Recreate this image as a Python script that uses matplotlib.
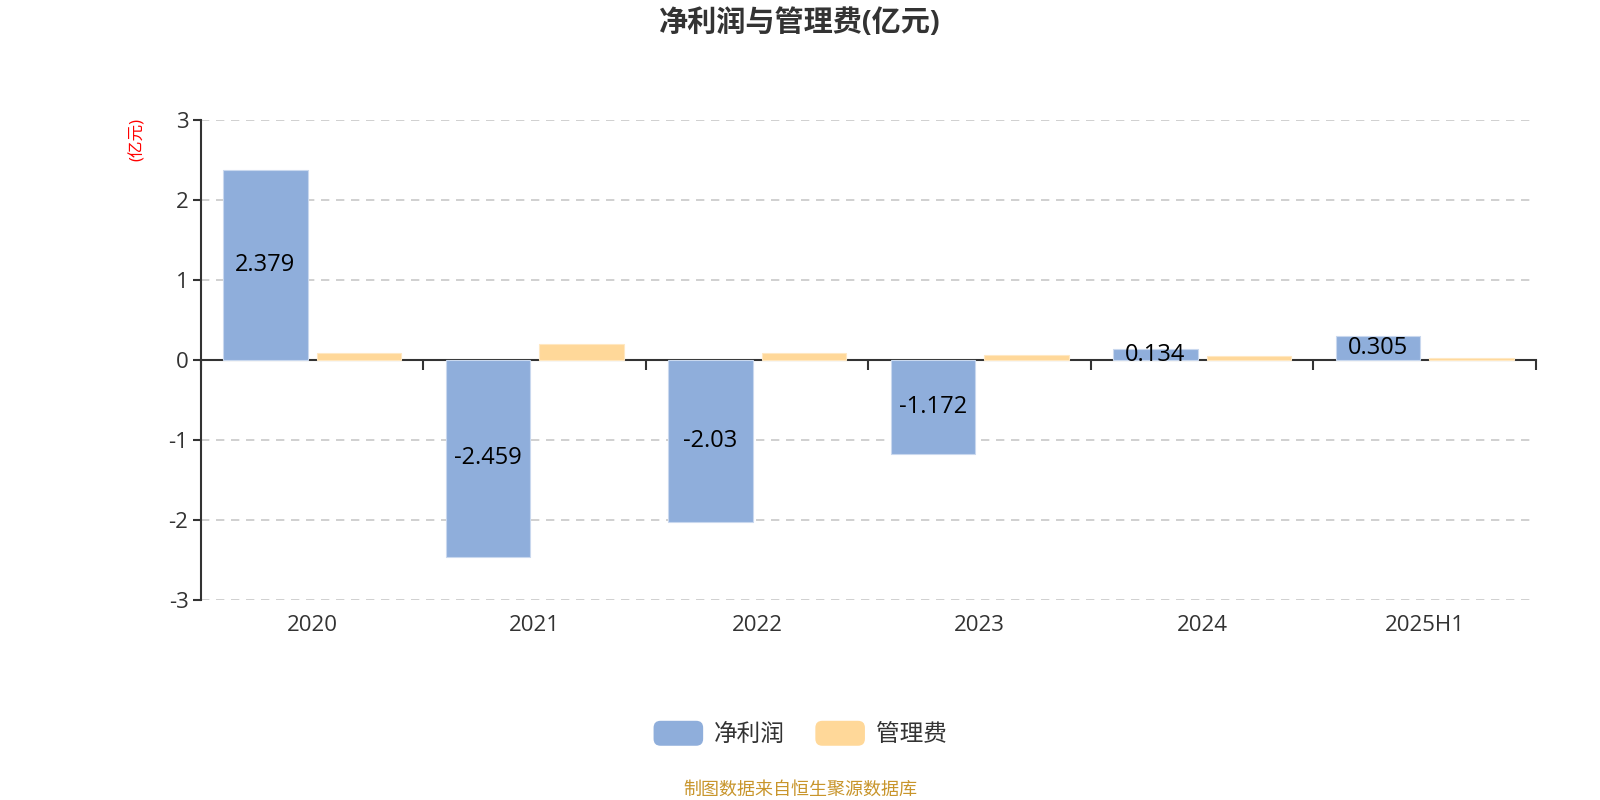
import numpy as np
import matplotlib
matplotlib.use('Agg')
import matplotlib.pyplot as plt
from matplotlib.patches import Patch, FancyBboxPatch
from matplotlib.legend_handler import HandlerPatch

plt.rcParams['font.family'] = ['Open Sans', 'Noto Sans CJK SC', 'DejaVu Sans']
plt.rcParams['axes.unicode_minus'] = False

# Data
years = ['2020', '2021', '2022', '2023', '2024', '2025H1']
net_profit = [2.379, -2.459, -2.03, -1.172, 0.134, 0.305]
admin_fee = [0.09, 0.20, 0.09, 0.06, 0.05, 0.03]
profit_labels = ['2.379', '-2.459', '-2.03', '-1.172', '0.134', '0.305']
series_names = ['净利润', '管理费']
yticks = [-3, -2, -1, 0, 1, 2, 3]

blue = '#8FAEDB'
orange = '#FFD899'
txt = '#333333'


# rounded legend keys
class RoundHandler(HandlerPatch):
    def create_artists(self, legend, orig_handle, xdescent, ydescent,
                       width, height, fontsize, trans):
        p = FancyBboxPatch((-xdescent, -ydescent), width, height,
                           boxstyle='round,pad=0,rounding_size=5',
                           facecolor=orig_handle.get_facecolor(),
                           edgecolor='none', transform=trans)
        return [p]


fig = plt.figure(figsize=(16, 8), dpi=100)
ax = fig.add_axes([0.1256, 0.25, 0.8344, 0.60])

x = np.arange(len(years)) + 0.5
w = 0.38
ax.bar(x - 0.21, net_profit, w, color=blue, edgecolor='#C9D8EE', linewidth=0.8, zorder=3)
ax.bar(x + 0.21, admin_fee, w, color=orange, edgecolor='#FFE8C2', linewidth=0.8, zorder=3)

# value labels in the middle of the profit bars
for xi, v, lab in zip(x, net_profit, profit_labels):
    ax.text(xi - 0.21, v / 2, lab, ha='center', va='center', fontsize=17,
            color='black', zorder=5)

ax.set_xlim(0, len(years))
ax.set_ylim(-3, 3)
ax.set_yticks(yticks)
ax.set_yticklabels([str(t) for t in yticks], fontsize=16, color=txt)
ax.tick_params(axis='y', length=6, width=1.5, color=txt, pad=3)

# grid (dashed) except at zero line
for t in yticks:
    if t != 0:
        ax.axhline(t, color='#C8C8C8', linestyle=(0, (5, 4)), linewidth=1.2, zorder=1)

for s in ['top', 'right']:
    ax.spines[s].set_visible(False)
ax.spines['left'].set_color(txt)
ax.spines['left'].set_linewidth(1.5)
ax.spines['bottom'].set_position(('data', 0))
ax.spines['bottom'].set_color(txt)
ax.spines['bottom'].set_linewidth(1.5)
ax.spines['bottom'].set_zorder(2.5)

ax.set_xticks(np.arange(len(years) + 1))
ax.set_xticklabels([''] * (len(years) + 1))
ax.tick_params(axis='x', length=7, width=1.5, color=txt, direction='out')

# category labels below the plot area
for xi, yr in zip(x, years):
    ax.text(xi, -3.32, yr, ha='center', va='center', fontsize=16, color=txt)

# unit label
fig.text(0.086, 0.852, '(亿元)', rotation=90, ha='center', va='top',
         fontsize=12, color='red')

fig.text(0.5, 0.971, '净利润与管理费(亿元)', ha='center', va='center',
         fontsize=21, fontweight='bold', color=txt)

handles = [Patch(facecolor=blue), Patch(facecolor=orange)]
fig.legend(handles, series_names, loc='center', bbox_to_anchor=(0.5, 0.0825), ncol=2,
           frameon=False, fontsize=17, handlelength=2.1, handleheight=1.25,
           columnspacing=1.3, handletextpad=0.45, labelcolor=txt,
           handler_map={Patch: RoundHandler()})

fig.text(0.5, 0.013, '制图数据来自恒生聚源数据库', ha='center', va='center',
         fontsize=13, color='#C8952B')

fig.savefig('out.png', dpi=100)
